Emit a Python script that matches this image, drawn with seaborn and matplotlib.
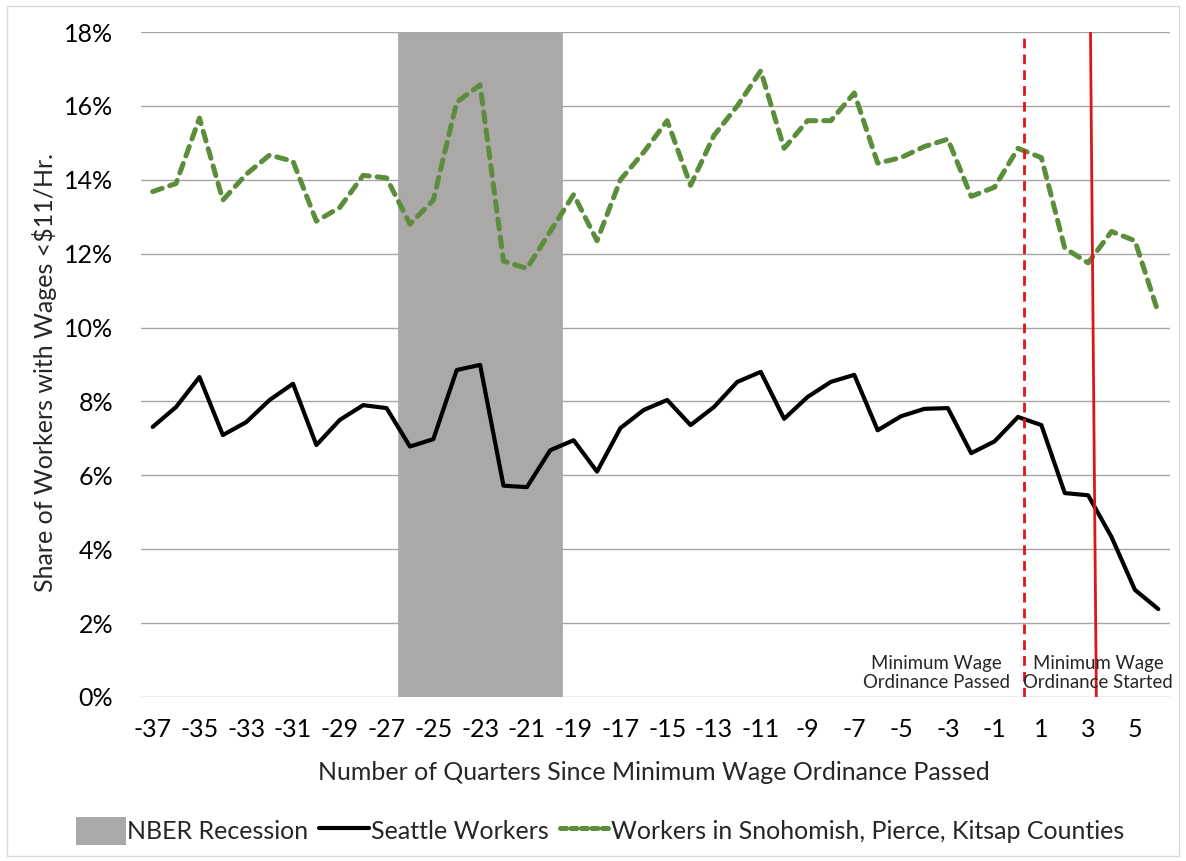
import numpy as np
import pandas as pd
import matplotlib
matplotlib.use("Agg")
import matplotlib.pyplot as plt
import seaborn as sns
from matplotlib.patches import Patch, Rectangle
from matplotlib.lines import Line2D
from matplotlib.ticker import FuncFormatter

# ---- data ----
quarters = list(range(-37, 7))
seattle = [7.31, 7.85, 8.66, 7.09, 7.44, 8.04, 8.48, 6.82, 7.50, 7.90,
           7.82, 6.78, 6.98, 8.85, 8.99, 5.72, 5.68, 6.68, 6.95, 6.10,
           7.28, 7.77, 8.04, 7.36, 7.85, 8.53, 8.80, 7.53, 8.12, 8.53,
           8.72, 7.22, 7.60, 7.80, 7.82, 6.60, 6.92, 7.58, 7.36, 5.52,
           5.46, 4.33, 2.90, 2.38]
neighbors = [13.68, 13.90, 15.67, 13.45, 14.15, 14.67, 14.50, 12.88, 13.25, 14.12,
             14.05, 12.80, 13.45, 16.10, 16.57, 11.80, 11.60, 12.60, 13.60, 12.35,
             14.00, 14.75, 15.60, 13.85, 15.20, 16.00, 16.95, 14.85, 15.60, 15.60,
             16.35, 14.45, 14.60, 14.90, 15.10, 13.55, 13.80, 14.85, 14.60, 12.15,
             11.75, 12.60, 12.35, 10.40]
recession_quarters = [-26, -25, -24, -23, -22, -21, -20]
recession_height = 18
passed_x = 0.25
started_x = [3.35, 3.10]
started_y = [0, 18]
x_ticks = list(range(-37, 6, 2))
y_ticks = [0, 2, 4, 6, 8, 10, 12, 14, 16, 18]

assert len(seattle) == len(quarters) == len(neighbors)

df = pd.DataFrame({"quarter": quarters, "seattle": seattle, "neighbors": neighbors})

sns.set_style("white")
plt.rcParams["font.family"] = ["Lato", "DejaVu Sans"]
plt.rcParams["axes.unicode_minus"] = False

GREEN = "#5b8d3b"
GRAY = "#aba8a8"
RED = "#e0141b"
FS = 18

fig = plt.figure(figsize=(11.86, 8.61), dpi=100)
ax = fig.add_axes([141 / 1186, 1 - 697 / 861, (1170 - 141) / 1186, (697 - 32) / 861])

ax.set_axisbelow(True)
ax.yaxis.grid(True, color="#a6a6a6", linewidth=1.0)
ax.xaxis.grid(False)

ax.bar(recession_quarters, [recession_height] * len(recession_quarters), width=1.0,
       color=GRAY, edgecolor=GRAY, linewidth=0.5, zorder=1.5)

sns.lineplot(data=df, x="quarter", y="neighbors", ax=ax, color=GREEN, linewidth=3.6, zorder=3)
ln = ax.lines[-1]
ln.set_dashes((2.0, 1.6))
ln.set_dash_capstyle("round")
sns.lineplot(data=df, x="quarter", y="seattle", ax=ax, color="black", linewidth=3.0, zorder=4)

ax.axvline(passed_x, ymin=0, ymax=1, color=RED, linewidth=2.0, dashes=(3.5, 2.2), zorder=5)
ax.plot(started_x, started_y, color=RED, linewidth=2.0, zorder=5)

ax.set_xlim(-37.5, 6.5)
ax.set_ylim(0, 18)
ax.set_xticks(x_ticks)
ax.set_yticks(y_ticks)
ax.yaxis.set_major_formatter(FuncFormatter(lambda v, p: f"{v:.0f}%"))
ax.tick_params(axis="both", length=0, labelsize=FS, colors="black")
ax.tick_params(axis="y", pad=20)
ax.tick_params(axis="x", pad=15)
ax.set_xlabel("")
ax.set_ylabel("")
for s in ax.spines.values():
    s.set_visible(False)

ax.text(-3.5, 0.65, "Minimum Wage\nOrdinance Passed", ha="center", va="center",
        fontsize=13.4, linespacing=1.1, zorder=6)
ax.text(3.42, 0.65, "Minimum Wage\nOrdinance Started", ha="center", va="center",
        fontsize=13.4, linespacing=1.1, zorder=6)

fig.text(45 / 1186, 1 - 372 / 861, "Share of Workers with Wages <$11/Hr.", rotation=90,
         ha="center", va="center", fontsize=FS)
fig.text(654 / 1186, 1 - 772 / 861, "Number of Quarters Since Minimum Wage Ordinance Passed",
         ha="center", va="center", fontsize=FS)

handles = [Patch(facecolor=GRAY, edgecolor="none"),
           Line2D([0], [0], color="black", linewidth=3.0),
           Line2D([0], [0], color=GREEN, linewidth=3.6, dashes=(1.2, 0.9), dash_capstyle="round")]
labels = ["NBER Recession", "Seattle Workers", "Workers in Snohomish, Pierce, Kitsap Counties"]
fig.legend(handles, labels, loc="center", bbox_to_anchor=(600 / 1186, 1 - 831 / 861), ncol=3,
           frameon=False, fontsize=FS, handlelength=2.0, handleheight=1.3, handletextpad=0.05,
           columnspacing=0.45)

fig.patches.append(Rectangle((7 / 1186, 5 / 861), 1172 / 1186, 850 / 861,
                             transform=fig.transFigure, fill=False, edgecolor="#d9d9d9",
                             linewidth=1.0))

fig.savefig("out.png", dpi=100)
